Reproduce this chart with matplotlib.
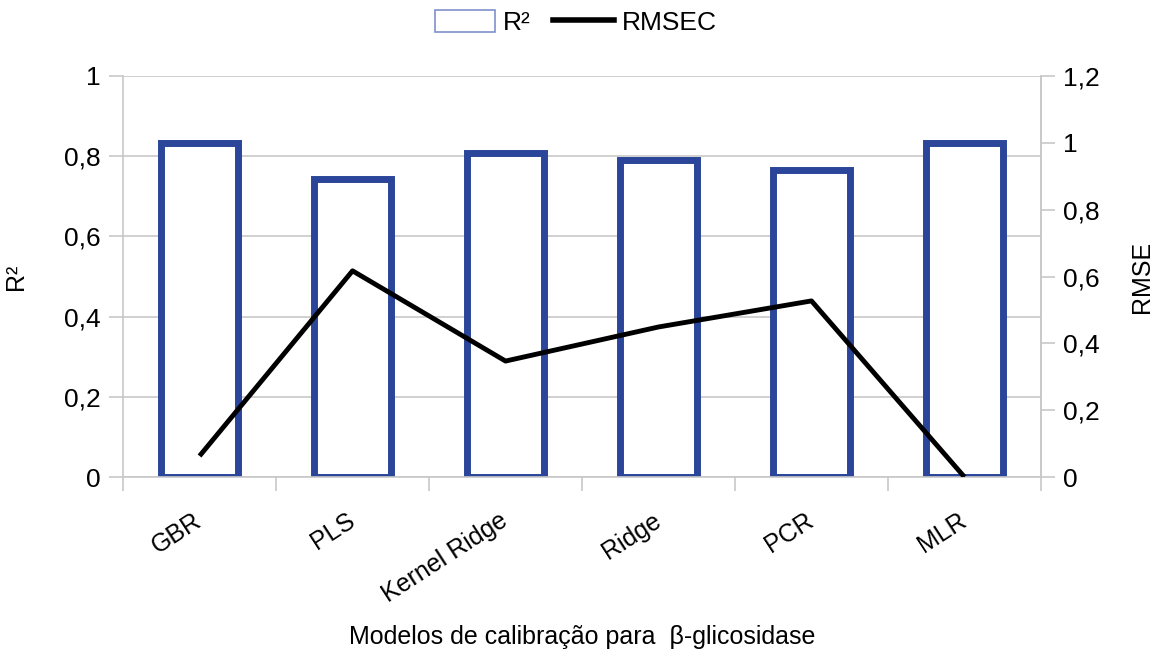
import matplotlib.pyplot as plt
from matplotlib.ticker import FuncFormatter, MultipleLocator
from matplotlib.lines import Line2D
from matplotlib.patches import Patch

plt.rcParams['font.family'] = ['Liberation Sans', 'DejaVu Sans']

models = ['GBR', 'PLS', 'Kernel Ridge', 'Ridge', 'PCR', 'MLR']
r2 = [0.833, 0.743, 0.808, 0.790, 0.766, 0.833]
rmsec = [0.063, 0.617, 0.347, 0.449, 0.527, 0.0]

blue = '#2a4599'
grid = '#c8c8c8'


def comma(v, pos):
    s = f'{v:g}'
    return s.replace('.', ',')


fig = plt.figure(figsize=(11.61, 6.54), dpi=100)
ax = fig.add_axes([0.106, 0.2706, 0.7906, 0.6132])
x = list(range(len(models)))

ax.bar(x, r2, width=0.5, facecolor='white', edgecolor=blue, linewidth=5,
       zorder=2)
ax.set_xlim(-0.5, len(models) - 0.5)
ax.set_ylim(0, 1)
ax.yaxis.set_major_locator(MultipleLocator(0.2))
ax.yaxis.set_major_formatter(FuncFormatter(comma))
ax.grid(axis='y', color=grid, linewidth=1.2, zorder=0)
ax.set_axisbelow(True)

ax.spines['top'].set_visible(False)
for s in ax.spines.values():
    s.set_color(grid)
    s.set_linewidth(1.2)

# category ticks sit on the boundaries between bars
ax.set_xticks([i - 0.5 for i in range(len(models) + 1)], minor=False)
ax.set_xticklabels([])
ax.set_xticks(x, minor=True)
ax.set_xticklabels(models, minor=True, rotation=33, ha='right',
                   va='center', rotation_mode='anchor', fontsize=18)
ax.tick_params(axis='x', which='major', length=10, color=grid, width=1.2)
ax.tick_params(axis='x', which='minor', length=0, pad=30)
ax.tick_params(axis='y', length=10, color=grid, width=1.2, labelsize=19,
               pad=6)

ax2 = ax.twinx()
ax2.plot(x, rmsec, color='black', linewidth=3.5, zorder=3,
         solid_capstyle='butt')
ax2.set_ylim(0, 1.2)
ax2.yaxis.set_major_locator(MultipleLocator(0.2))
ax2.yaxis.set_major_formatter(FuncFormatter(comma))
for s in ax2.spines.values():
    s.set_visible(False)
ax2.spines['right'].set_visible(True)
ax2.spines['right'].set_color(grid)
ax2.spines['right'].set_linewidth(1.2)
ax2.tick_params(axis='y', length=10, color=grid, width=1.2, labelsize=19,
                pad=6)

ax.set_ylabel('R²', fontsize=18)
ax.yaxis.set_label_coords(-0.104, 0.5)
ax2.set_ylabel('RMSE', fontsize=18)
ax2.yaxis.set_label_coords(1.097, 0.5)
ax.set_xlabel('Modelos de calibração para  β-glicosidase', fontsize=18)
ax.xaxis.set_label_coords(0.5, -0.37)

handles = [Patch(facecolor='white', edgecolor='#8090cc', linewidth=1.2),
           Line2D([0], [0], color='black', linewidth=4)]
fig.legend(handles, ['R²', 'RMSEC'], loc='center', ncol=2,
           frameon=False, fontsize=19, bbox_to_anchor=(0.496, 0.965),
           handlelength=2.3, handleheight=0.9, handletextpad=0.3,
           columnspacing=0.85)

fig.savefig('out.png', dpi=100)
